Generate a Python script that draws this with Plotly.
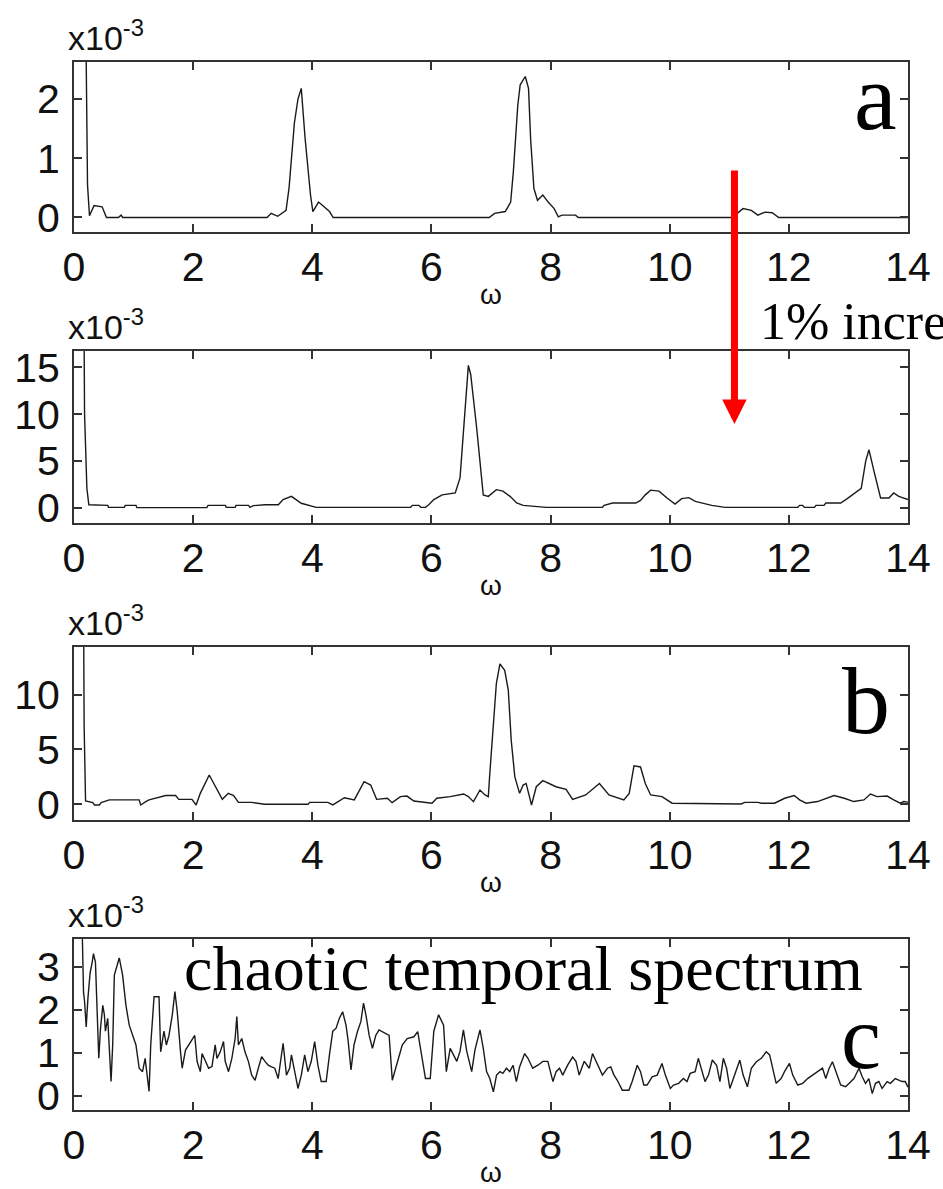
import plotly.graph_objects as go

# panel a
w_a = [0.18, 0.227, 0.26, 0.336, 0.472, 0.545, 0.745, 0.79, 0.817, 3.24, 3.31, 3.42, 3.56, 3.61,
       3.70, 3.76, 3.815, 3.88, 3.97, 4.01, 4.105, 4.195, 4.29, 4.35, 6.97, 7.06, 7.24, 7.33,
       7.375, 7.45, 7.49, 7.575, 7.63, 7.665, 7.72, 7.78, 7.87, 7.96, 8.06, 8.13, 8.19, 8.42,
       8.465, 11.05, 11.23, 11.37, 11.48, 11.6, 11.72, 11.83, 14.0]
s_a = [5.0, 0.55, 0.03, 0.2, 0.18, 0.0, 0.0, 0.04, 0.0, 0.0, 0.07, 0.02, 0.12, 0.5,
       1.6, 2.0, 2.18, 1.33, 0.38, 0.1, 0.26, 0.18, 0.1, 0.0, 0.0, 0.07, 0.1, 0.26,
       0.77, 1.9, 2.24, 2.38, 2.18, 1.33, 0.49, 0.29, 0.38, 0.26, 0.15, 0.01, 0.04, 0.04,
       0.0, 0.0, 0.15, 0.12, 0.04, 0.09, 0.08, 0.0, 0.0]

# panel between a and b
w_m = [0.16, 0.177, 0.216, 0.249, 0.566, 0.58, 0.844, 0.86, 1.04, 1.055, 2.23, 2.25, 2.54, 2.555,
       2.705, 2.72, 2.93, 2.955, 3.01, 3.205, 3.43, 3.51, 3.65, 3.815, 4.065, 5.65, 5.68, 5.79,
       5.82, 5.9, 5.955, 6.04, 6.18, 6.4, 6.48, 6.565, 6.62, 6.66, 6.76, 6.87, 6.955, 7.09,
       7.2, 7.32, 7.43, 7.54, 7.93, 8.87, 8.9, 9.04, 9.43, 9.51, 9.59, 9.68, 9.82, 9.955,
       10.09, 10.2, 10.32, 10.43, 10.705, 10.93, 12.15, 12.18, 12.23, 12.26, 12.43, 12.455,
       12.59, 12.62, 12.87, 12.98, 13.15, 13.215, 13.29, 13.345, 13.43, 13.54, 13.68, 13.76,
       13.845, 13.95, 14.0]
s_m = [30.0, 10.1, 2.1, 0.35, 0.28, 0.07, 0.07, 0.28, 0.28, 0.04, 0.04, 0.28, 0.28, 0.07,
       0.07, 0.28, 0.28, 0.07, 0.25, 0.35, 0.35, 0.9, 1.24, 0.5, 0.07, 0.07, 0.28, 0.28,
       0.07, 0.07, 0.35, 0.9, 1.4, 1.6, 3.2, 10.3, 15.2, 14.2, 8.5, 1.4, 1.24, 1.95,
       1.8, 1.24, 0.53, 0.28, 0.07, 0.07, 0.28, 0.53, 0.53, 0.8, 1.4, 1.9, 1.8, 1.06,
       0.42, 1.0, 1.1, 0.7, 0.28, 0.07, 0.07, 0.28, 0.28, 0.07, 0.07, 0.28,
       0.28, 0.53, 0.53, 1.0, 1.8, 2.1, 5.0, 6.2, 3.9, 1.06, 1.06, 1.6,
       1.24, 1.06, 0.9]

# panel b
w_b = [0.15, 0.17, 0.194, 0.316, 0.344, 0.427, 0.455, 0.594, 1.094, 1.12, 1.205, 1.26, 1.54,
       1.705, 1.76, 1.98, 2.05, 2.12, 2.27, 2.4, 2.49, 2.59, 2.68, 2.76, 2.98, 3.2, 3.93,
       3.955, 4.26, 4.345, 4.43, 4.54, 4.705, 4.815, 4.87, 4.98, 5.08, 5.26, 5.34, 5.48,
       5.59, 5.705, 6.01, 6.09, 6.315, 6.54, 6.62, 6.705, 6.815, 6.9, 6.955, 6.98, 7.04,
       7.09, 7.15, 7.23, 7.29, 7.34, 7.4, 7.48, 7.54, 7.59, 7.68, 7.76, 7.87, 7.98, 8.09,
       8.26, 8.37, 8.59, 8.82, 8.98, 9.23, 9.32, 9.4, 9.51, 9.59, 9.68, 9.87, 10.04, 11.2,
       11.26, 11.48, 11.54, 11.76, 11.93, 12.09, 12.18, 12.29, 12.48, 12.65, 12.76, 12.93,
       13.09, 13.26, 13.37, 13.48, 13.65, 13.76, 13.87, 13.93, 14.0]
s_b = [30.0, 7.2, 0.3, 0.15, -0.06, -0.06, 0.15, 0.4, 0.4, -0.06, 0.25, 0.4, 0.8,
       0.8, 0.45, 0.45, -0.06, 1.0, 2.67, 1.3, 0.45, 1.0, 0.8, 0.18, 0.18, 0.0, 0.0,
       0.18, 0.18, -0.06, 0.25, 0.6, 0.4, 1.6, 2.06, 1.75, 0.45, 0.55, 0.15, 0.7,
       0.75, 0.3, 0.1, 0.55, 0.7, 0.94, 0.7, 0.24, 1.3, 0.85, 0.7, 2.8, 7.4,
       11.0, 12.8, 12.2, 10.4, 5.8, 2.5, 1.0, 1.75, 1.9, -0.06, 1.6, 2.15, 1.9, 1.6,
       1.36, 0.45, 0.85, 1.9, 0.85, 0.4, 1.0, 3.5, 3.4, 1.9, 0.85, 0.7, 0.1, 0.03,
       0.18, 0.18, 0.1, 0.1, 0.55, 0.8, 0.4, 0.1, 0.25, 0.55, 0.8, 0.55,
       0.25, 0.4, 0.94, 0.7, 0.75, 0.4, 0.1, 0.25, 0.2]

# panel c, chaotic
w_c = [0.14, 0.16, 0.177, 0.205, 0.233, 0.27, 0.305, 0.327, 0.36, 0.383, 0.416, 0.444, 0.483,
       0.51, 0.527, 0.566, 0.594, 0.622, 0.65, 0.677, 0.733, 0.76, 0.816, 0.872, 0.927, 0.983,
       1.04, 1.094, 1.15, 1.194, 1.233, 1.26, 1.288, 1.344, 1.427, 1.455, 1.51, 1.55, 1.594,
       1.65, 1.694, 1.733, 1.788, 1.816, 1.872, 1.927, 2.027, 2.066, 2.12, 2.15, 2.205, 2.26,
       2.316, 2.37, 2.4, 2.455, 2.51, 2.538, 2.594, 2.65, 2.705, 2.733, 2.76, 2.816, 2.87,
       2.927, 2.983, 3.04, 3.094, 3.15, 3.205, 3.26, 3.316, 3.37, 3.427, 3.51, 3.566, 3.62,
       3.65, 3.705, 3.76, 3.816, 3.872, 3.927, 3.983, 4.04, 4.094, 4.15, 4.233, 4.288, 4.344,
       4.4, 4.455, 4.51, 4.566, 4.6, 4.65, 4.70, 4.76, 4.815, 4.86, 4.9, 4.955, 5.01, 5.065,
       5.12, 5.29, 5.343, 5.426, 5.51, 5.593, 5.705, 5.77, 5.815, 5.9, 5.98, 6.04, 6.12,
       6.204, 6.25, 6.315, 6.37, 6.426, 6.48, 6.537, 6.593, 6.676, 6.73, 6.815, 6.87, 6.926,
       6.98, 7.04, 7.093, 7.15, 7.2, 7.26, 7.315, 7.37, 7.426, 7.48, 7.565, 7.62, 7.7, 7.787,
       7.87, 7.954, 8.04, 8.093, 8.15, 8.204, 8.287, 8.37, 8.426, 8.48, 8.565, 8.65, 8.704,
       8.76, 8.815, 8.87, 8.954, 9.01, 9.065, 9.12, 9.204, 9.315, 9.37, 9.455, 9.51, 9.565,
       9.62, 9.705, 9.79, 9.87, 9.927, 10.01, 10.065, 10.15, 10.23, 10.29, 10.343, 10.427,
       10.48, 10.54, 10.593, 10.65, 10.715, 10.787, 10.843, 10.9, 10.954, 11.01, 11.093,
       11.177, 11.232, 11.304, 11.37, 11.454, 11.537, 11.62, 11.677, 11.732, 11.787, 11.87,
       11.927, 12.01, 12.065, 12.15, 12.232, 12.315, 12.4, 12.48, 12.565, 12.62, 12.677,
       12.732, 12.815, 12.87, 12.954, 13.037, 13.093, 13.177, 13.232, 13.287, 13.343, 13.4,
       13.454, 13.51, 13.565, 13.65, 13.704, 13.787, 13.843, 13.9, 13.954, 14.0]
s_c = [3.7, 2.4, 2.2, 1.6, 2.25, 2.85, 3.1, 3.3, 3.1, 2.2, 0.87, 1.55, 2.1,
       1.88, 1.5, 1.8, 0.87, 0.33, 1.2, 2.8, 3.07, 3.2, 2.8, 2.1, 1.64, 1.4,
       1.18, 0.64, 0.56, 0.87, 0.4, 0.1, 1.18, 2.3, 2.3, 1.02, 1.5, 1.18, 1.4,
       1.88, 2.42, 1.95, 1.02, 0.64, 1.06, 1.18, 1.4, 0.8, 0.56, 0.98, 0.8, 0.64,
       0.68, 1.18, 0.87, 1.02, 1.26, 0.8, 0.56, 0.87, 1.33, 1.84, 1.18, 1.33, 1.02,
       0.8, 0.48, 0.36, 0.64, 0.91, 0.8, 0.71, 0.67, 0.64, 0.4, 1.22, 0.48, 0.64,
       0.95, 0.56, 0.17, 0.48, 0.95, 0.56, 0.8, 1.26, 0.71, 0.33, 0.33, 0.95, 1.5,
       1.57, 1.8, 1.95, 1.64, 1.3, 0.6, 1.18, 1.5, 1.72, 2.15, 1.88, 1.4, 1.1, 1.4,
       1.53, 1.4, 0.36, 0.8, 1.18, 1.33, 1.37, 1.49, 1.1, 0.4, 0.4, 1.5, 1.88,
       1.64, 0.56, 1.1, 0.95, 0.8, 1.03, 1.53, 1.03, 0.56, 1.06, 1.53, 1.1, 0.56,
       0.4, 0.09, 0.48, 0.56, 0.52, 0.64, 0.56, 0.71, 0.33, 0.67, 0.98, 0.87, 0.64, 0.71,
       0.8, 0.8, 0.33, 0.56, 0.64, 0.48, 0.71, 0.9, 0.8, 0.48, 0.8, 0.64, 0.98,
       0.8, 0.64, 0.48, 0.64, 0.67, 0.48, 0.36, 0.13, 0.13, 0.33, 0.71, 0.56, 0.25,
       0.25, 0.44, 0.48, 0.75, 0.48, 0.17, 0.25, 0.29, 0.4, 0.33, 0.52, 0.56,
       0.87, 0.6, 0.33, 0.48, 0.83, 0.71, 0.33, 0.87, 0.64, 0.17, 0.48,
       0.83, 0.48, 0.21, 0.64, 0.79, 0.87, 1.02, 0.95, 0.6, 0.29, 0.4,
       0.56, 0.75, 0.48, 0.25, 0.29, 0.4, 0.48, 0.56, 0.64, 0.4, 0.64,
       0.79, 0.48, 0.25, 0.21, 0.33, 0.4, 0.64, 0.44, 0.29, 0.4, 0.05,
       0.29, 0.33, 0.17, 0.33, 0.29, 0.4, 0.36, 0.33, 0.33, 0.2]

panels = [(w_a, s_a, [-0.245, 2.625], [0, 1, 2]),
          (w_m, s_m, [-1.6, 16.73], [0, 5, 10, 15]),
          (w_b, s_b, [-1.43, 14.33], [0, 5, 10]),
          (w_c, s_c, [-0.33, 3.64], [0, 1, 2, 3])]
xticks = [0, 2, 4, 6, 8, 10, 12, 14]

W, H = 943, 1189
L, R, T, B = 74, 28, 62, 79
# panel boxes in pixels (top, bottom)
boxes = [(62, 232), (351, 523), (647, 820), (939, 1110)]

def px(x):
    return (x - L) / (W - L - R)

def py(y):
    return (H - B - y) / (H - T - B)

sans = 'Liberation Sans, Arial, sans-serif'
serif = 'Liberation Serif, Times New Roman, serif'
frame = '#333333'

fig = go.Figure()
layout = dict(width=W, height=H, margin=dict(l=L, r=R, t=T, b=B),
              paper_bgcolor='white', plot_bgcolor='white', showlegend=False)
annotations = []

for i, (w, s, yr, yt) in enumerate(panels):
    n = '' if i == 0 else str(i + 1)
    fig.add_trace(go.Scatter(x=w, y=s, mode='lines', xaxis='x' + n, yaxis='y' + n,
                             line=dict(color='#1a1a1a', width=1.4)))
    top, bot = boxes[i]
    layout['xaxis' + n] = dict(domain=[0, 1], anchor='y' + n, range=[0, 14],
                               tickvals=xticks, ticks='inside', ticklen=8, tickwidth=1.5,
                               tickcolor=frame, showline=True, linecolor=frame, linewidth=2,
                               mirror='ticks', showgrid=False, zeroline=False,
                               ticklabelstandoff=-2,
                               tickfont=dict(family=sans, size=41, color='#111'))
    layout['yaxis' + n] = dict(domain=[py(bot), py(top)], anchor='x' + n, range=yr,
                               tickvals=yt, ticks='inside', ticklen=8, tickwidth=1.5,
                               tickcolor=frame, showline=True, linecolor=frame, linewidth=2,
                               mirror='ticks', showgrid=False, zeroline=False,
                               ticklabelstandoff=4,
                               tickfont=dict(family=sans, size=41, color='#111'))
    # multiplier label
    annotations.append(dict(text='x10<sup>-3</sup>', xref='paper', yref='paper',
                            x=px(66), y=py(top - 3), xanchor='left', yanchor='bottom',
                            showarrow=False, font=dict(family=sans, size=34, color='#111')))
    # omega axis title
    annotations.append(dict(text='\u03c9', xref='paper', yref='paper',
                            x=px(494), y=py(bot + 62), xanchor='center', yanchor='middle',
                            showarrow=False, font=dict(family=sans, size=28, color='#111')))

# panel letters and notes
annotations += [
    dict(text='a', x=px(882), y=py(97), font=dict(family=serif, size=96, color='black')),
    dict(text='b', x=px(873), y=py(700), font=dict(family=serif, size=96, color='black')),
    dict(text='c', x=px(868), y=py(1037), font=dict(family=serif, size=90, color='black')),
    dict(text='chaotic temporal spectrum', x=px(183), y=py(968), xanchor='left',
         font=dict(family=serif, size=64, color='black')),
    dict(text='1% increase', x=px(764), y=py(321), xanchor='left',
         font=dict(family=serif, size=52, color='black')),
]
for a in annotations[-5:]:
    a.update(xref='paper', yref='paper', showarrow=False)
    a.setdefault('xanchor', 'center')
    a.setdefault('yanchor', 'middle')

# red arrow
annotations.append(dict(text='', xref='paper', yref='paper', x=px(740), y=py(424),
                        ax=0, ay=-255, showarrow=True, arrowhead=2, arrowsize=0.7,
                        arrowwidth=7, arrowcolor='#ff0000', standoff=0))
layout['annotations'] = annotations
fig.update_layout(**layout)

# the page body has a default 8px margin; drop it so the figure sits at the corner
fig.write_html("out.html", config={'displayModeBar': False},
               post_script="document.body.style.margin='0';")
